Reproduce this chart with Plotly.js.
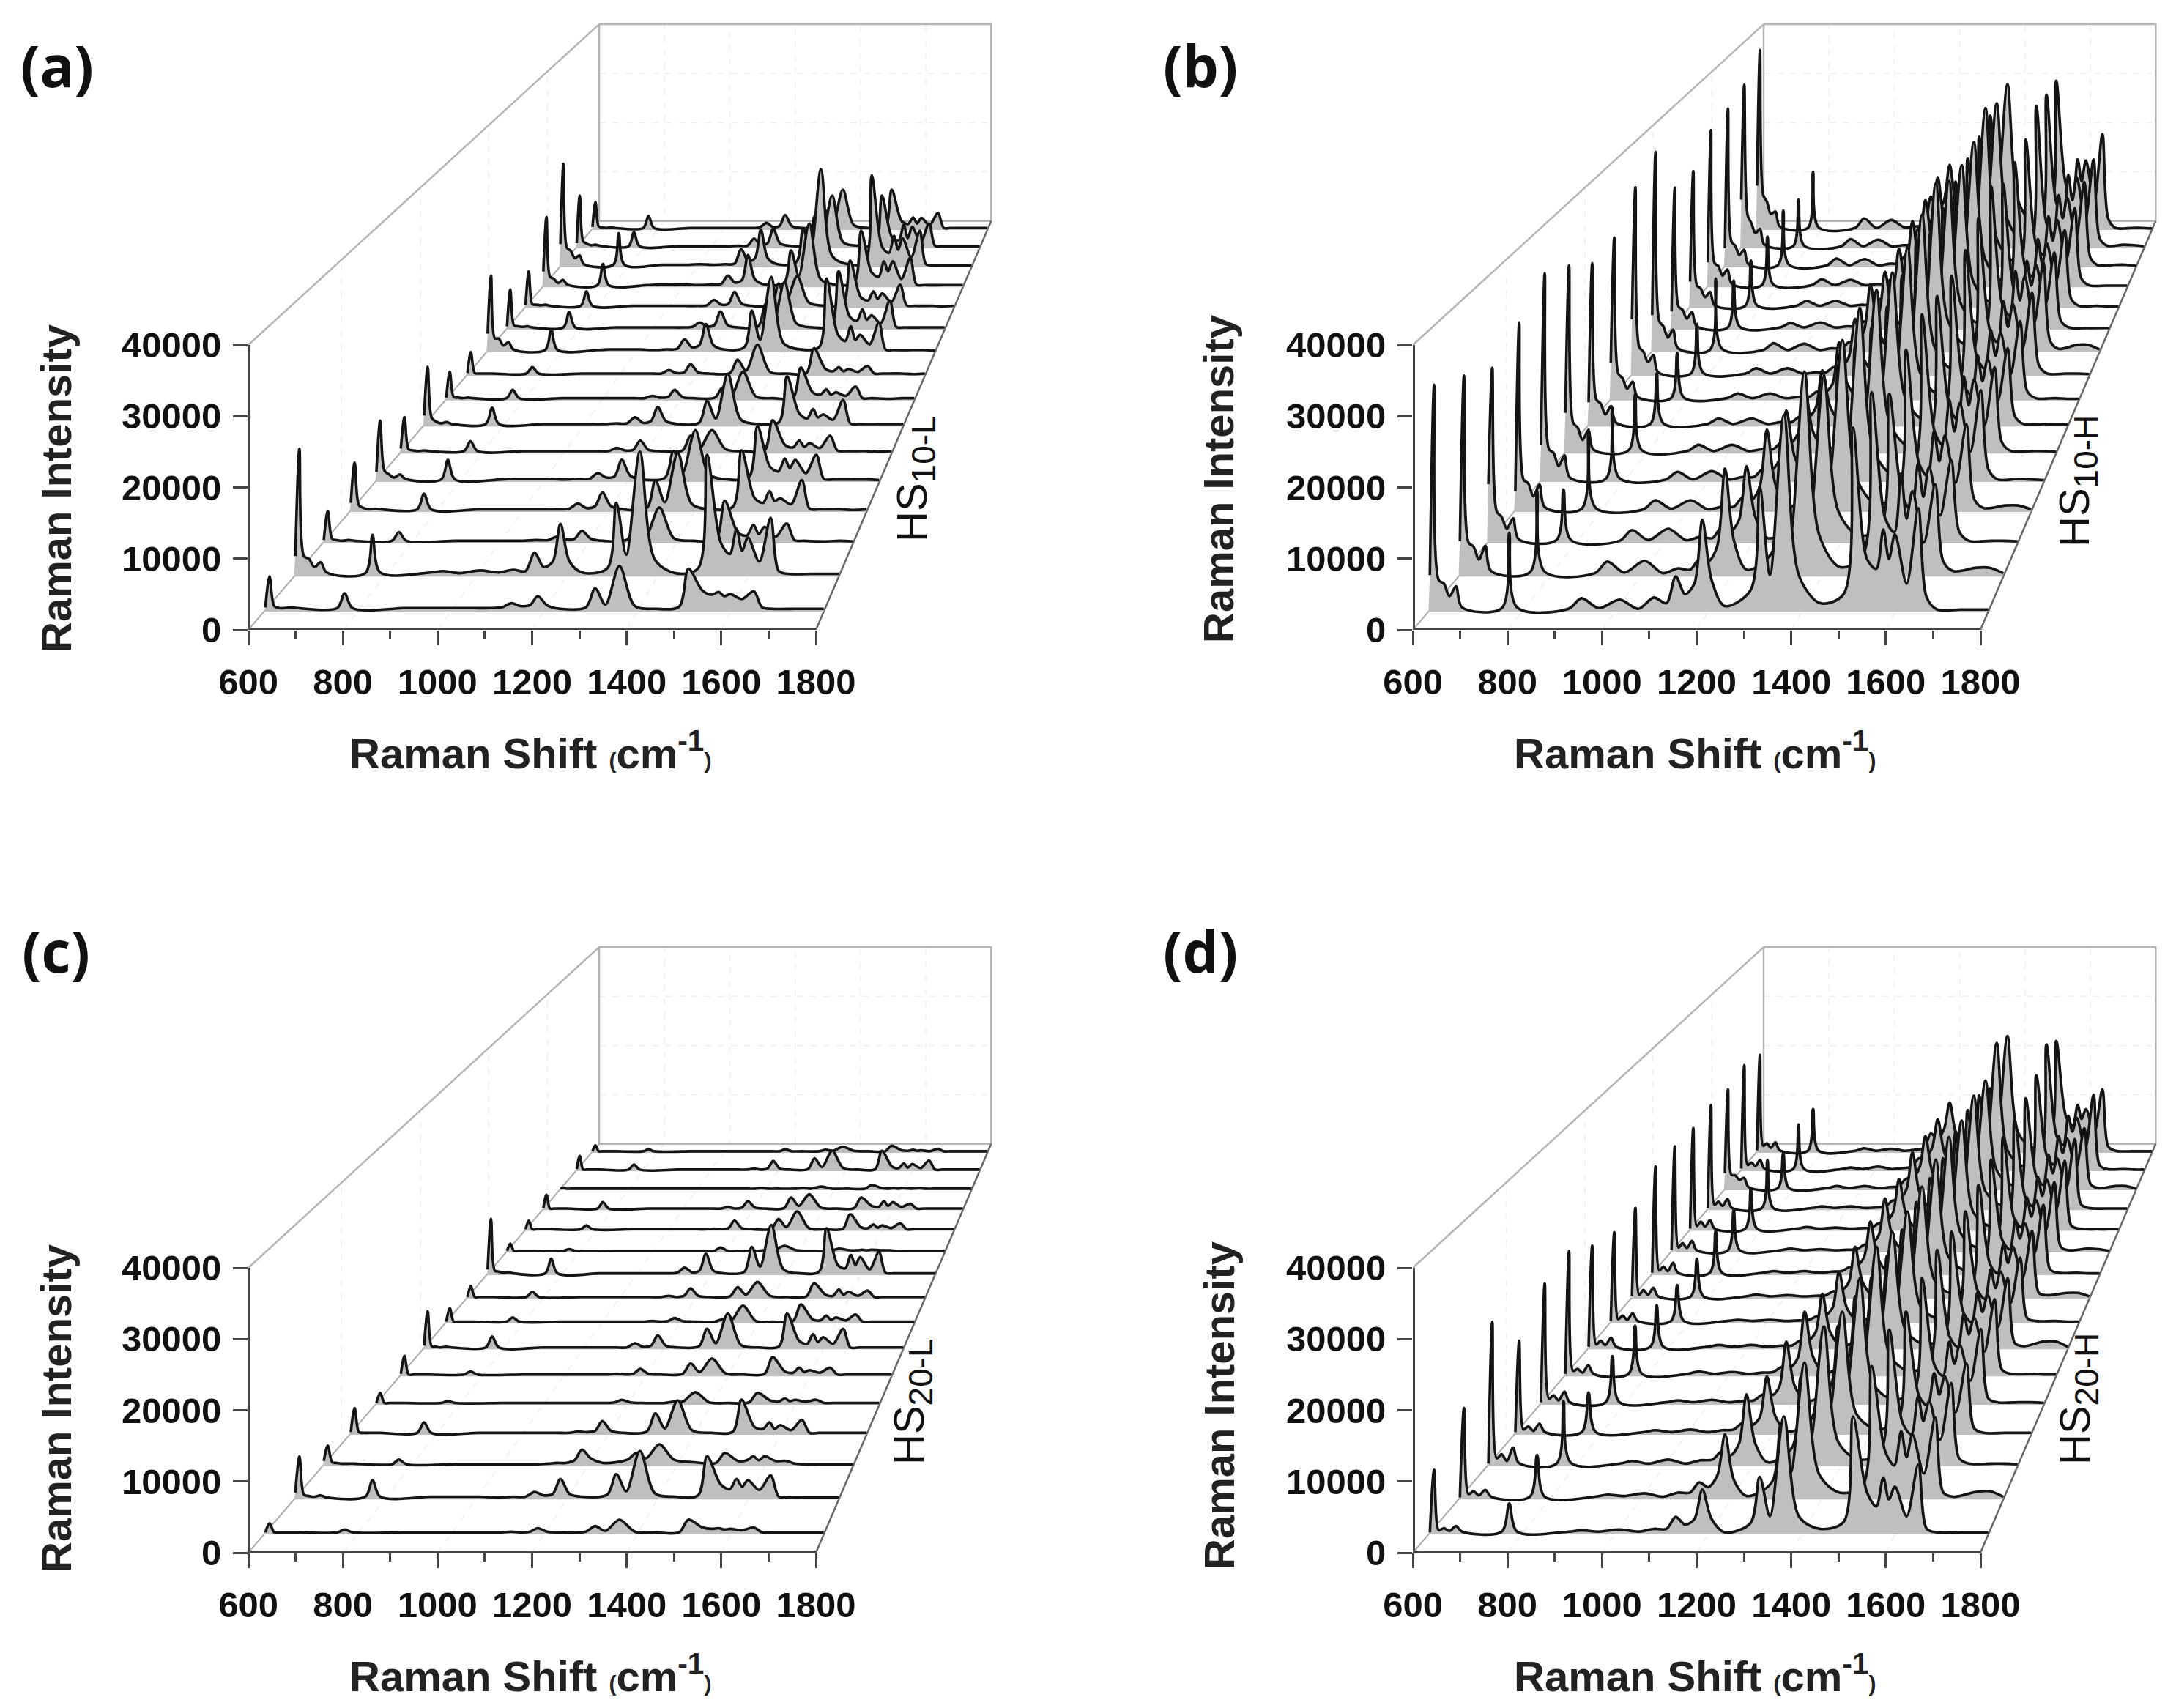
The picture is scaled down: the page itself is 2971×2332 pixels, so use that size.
<!DOCTYPE html>
<html>
<head>
<meta charset="utf-8">
<script src="https://cdn.plot.ly/plotly-3.0.1.min.js"></script>
<style>html,body{margin:0;padding:0;background:#fff}</style>
</head>
<body>
<div id="chart"></div>
<script>
// Raman shift positions shared by all spectra (cm-1)
const ramanShift = [603,612,622,633,645,659,672, 757,773,790,
  900,928,965,1010,1050,1083,1110,1130,1150,1170,1187,1207,1235,
  1290,1310,1332,1362,1395,1440,
  1490,1510,1540,1560,1575,1587,1600,1625,1650,1668,1690,1740,1770,1800];

// intensities in units of 100 counts, first row = front sample
const hs10L = [
  [6,50,8,5,5,6,5, 5,26,5, 5,5,5,5,5,5,6,12,8,9,22,9,4, 6,33,10,65,8,4, 7,61,30,24,28,22,25,18,29,6,4,4,4,4],
  [30,187,30,26,14,21,6, 5,61,6, 6,8,5,9,6,10,8,35,14,22,77,22,6, 12,108,32,183,25,5, 12,178,50,33,70,38,57,22,86,8,4,4,4,4],
  [5,49,7,5,4,5,4, 4,17,4, 4,4,4,4,4,5,5,10,6,7,19,7,4, 6,40,12,54,8,4, 6,64,16,12,28,14,25,10,30,5,4,3,4,3],
  [14,76,10,6,4,5,4, 4,28,4, 4,4,4,4,4,4,5,13,6,9,30,9,4, 6,49,15,91,12,4, 8,95,22,14,32,17,21,12,49,5,4,4,3,4],
  [16,97,18,12,7,12,5, 4,35,4, 4,5,5,5,4,5,5,14,7,9,35,10,4, 7,49,15,82,12,4, 8,88,24,17,37,22,35,14,43,5,4,4,4,3],
  [8,59,7,5,4,5,4, 4,20,4, 4,4,4,4,4,4,4,9,5,6,21,6,4, 5,29,9,38,7,4, 5,54,14,10,21,11,17,9,29,5,4,4,3,4],
  [18,99,14,8,5,7,4, 4,31,4, 4,4,4,4,4,5,5,15,6,9,32,9,4, 6,42,13,87,11,4, 7,83,22,13,29,15,20,11,44,5,4,4,4,4],
  [5,49,6,5,4,5,4, 4,18,4, 4,4,4,4,4,4,4,8,5,6,18,6,4, 5,22,8,49,7,4, 5,56,14,10,19,10,14,8,24,4,4,3,4,4],
  [5,41,5,4,4,4,4, 4,15,4, 4,4,4,4,4,4,4,10,5,6,20,6,4, 5,28,9,54,7,4, 5,48,12,8,15,8,12,7,17,4,4,4,3,4],
  [33,136,25,24,12,18,5, 4,40,4, 4,5,5,5,4,5,6,23,9,13,50,13,5, 9,74,22,134,16,5, 9,131,32,20,46,22,31,14,53,5,4,4,4,3],
  [6,73,8,6,5,6,4, 4,32,4, 4,4,4,4,4,4,5,13,6,8,33,8,4, 6,46,14,86,11,4, 7,106,24,16,37,18,26,12,53,5,4,4,4,4],
  [6,68,7,6,5,6,4, 4,31,4, 4,4,4,4,4,4,5,15,6,8,30,8,4, 6,45,14,59,10,4, 6,88,20,14,31,17,27,11,43,5,4,4,3,4],
  [30,133,20,16,8,14,5, 4,44,4, 4,5,5,5,4,5,6,22,9,14,61,15,5, 8,70,22,121,15,5, 8,107,28,20,49,30,49,16,56,5,4,4,4,4],
  [45,200,38,32,18,23,6, 5,66,5, 5,5,5,6,5,6,7,35,12,18,73,18,6, 10,75,32,190,22,6, 10,178,40,28,61,34,56,20,71,6,4,4,4,4],
  [10,104,14,9,6,7,5, 4,32,4, 4,4,4,4,4,5,5,19,7,10,39,10,5, 7,63,18,104,12,5, 7,104,22,16,46,20,42,12,49,5,4,4,4,4],
  [6,56,7,5,4,5,4, 4,28,4, 4,4,4,4,4,4,5,14,6,8,30,8,4, 6,39,13,81,10,4, 6,81,18,12,25,13,24,10,34,4,4,4,4,4]
];
const hs10H = [
  [52,323,45,40,22,36,6, 5,112,6, 4,19,5,17,4,20,12,50,25,40,131,45,8, 30,178,52,280,50,12, 25,262,75,61,117,75,110,40,147,20,3,3,3,3],
  [52,294,50,44,25,45,8, 6,125,7, 5,22,6,23,5,12,10,25,22,45,158,52,10, 35,200,65,300,60,14, 30,270,85,65,150,85,125,50,135,22,8,13,13,5],
  [89,264,48,40,22,38,6, 5,81,5, 4,20,5,22,5,10,8,24,18,35,116,40,8, 28,170,50,250,48,12, 24,225,70,50,120,70,115,42,125,18,4,4,4,3],
  [32,292,50,44,24,42,7, 5,127,6, 4,18,5,18,4,8,8,22,18,38,127,42,9, 30,180,55,265,52,13, 26,250,75,55,125,78,118,45,135,20,6,10,10,4],
  [58,330,52,46,25,42,7, 5,117,6, 4,16,4,17,4,8,8,20,18,35,113,40,8, 28,185,55,275,50,12, 26,265,80,58,130,80,125,48,145,20,4,5,4,3],
  [66,305,50,42,22,38,6, 5,96,5, 4,14,4,14,4,7,7,18,16,32,109,36,8, 26,175,52,265,48,12, 25,255,75,55,125,78,120,45,140,18,4,4,4,3],
  [40,271,45,38,20,34,6, 4,88,5, 4,13,4,13,4,7,7,16,14,30,93,32,7, 25,165,48,255,46,11, 23,250,70,52,118,75,112,42,130,17,4,4,3,3],
  [64,277,46,38,20,32,6, 4,81,5, 4,12,4,12,4,6,6,15,14,28,99,30,7, 24,160,50,260,46,11, 22,255,72,54,120,76,115,44,135,16,4,4,3,3],
  [98,328,50,42,24,36,6, 4,90,5, 4,13,4,13,4,6,6,15,15,32,99,34,7, 26,175,55,280,50,12, 24,275,78,58,130,85,125,48,145,18,4,4,4,3],
  [66,356,55,46,26,40,7, 4,131,6, 4,16,4,15,4,7,7,18,18,38,120,42,9, 30,200,60,300,55,14, 28,295,85,65,145,92,135,52,160,20,6,13,13,5],
  [33,258,42,36,20,32,6, 4,89,5, 4,12,4,13,4,6,6,15,15,30,105,34,7, 26,175,50,270,46,12, 24,265,72,55,125,80,118,45,140,16,4,3,3,3],
  [49,254,42,36,20,30,5, 4,88,5, 4,13,4,13,4,6,6,16,16,35,110,36,8, 26,185,52,265,48,12, 25,270,75,58,128,82,120,48,145,17,4,4,3,3],
  [47,298,46,40,22,34,6, 4,96,5, 4,15,4,14,4,6,7,18,20,45,125,42,9, 30,200,58,275,52,14, 28,280,80,62,135,88,128,50,150,18,4,3,3,3],
  [37,307,50,42,24,34,6, 4,110,5, 4,17,4,16,4,7,8,25,28,52,130,48,10, 32,210,62,308,55,14, 28,312,85,65,140,95,135,55,165,18,4,5,5,3],
  [96,323,65,50,30,38,7, 4,96,5, 4,18,4,17,4,6,8,40,32,60,140,50,10, 32,220,65,286,55,14, 28,303,88,68,145,95,140,55,175,20,5,7,6,4],
  [89,362,70,57,32,37,7, 4,117,5, 4,23,4,20,5,7,10,67,35,60,131,48,10, 34,230,70,293,58,14, 30,300,90,70,142,98,140,58,193,22,4,4,4,3]
];
const hs20L = [
  [3,16,3,3,3,3,3, 3,7,3, 3,3,3,3,3,3,3,4,3,4,9,4,3, 4,12,5,21,4,3, 3,21,10,8,9,7,8,6,10,3,3,3,3,3],
  [10,63,7,5,4,6,3, 4,28,4, 4,4,4,4,3,4,4,11,6,8,30,8,4, 7,37,12,71,9,4, 6,63,22,15,30,19,28,14,35,4,3,3,3,3],
  [8,31,6,5,4,4,4, 3,10,3, 3,3,3,3,3,3,4,5,5,9,25,12,5, 10,20,12,33,10,6, 5,20,8,9,15,9,15,8,8,4,3,3,3,3],
  [4,41,4,3,3,3,3, 3,19,3, 3,3,3,3,3,3,3,5,4,6,21,6,3, 5,33,10,53,7,3, 5,54,12,9,19,9,15,7,23,3,3,3,3,3],
  [3,19,3,3,3,3,3, 3,6,3, 3,3,3,3,3,3,3,3,3,4,8,4,3, 3,5,5,20,4,3, 4,19,7,5,10,6,8,5,8,3,3,3,3,3],
  [4,33,3,3,3,3,3, 3,8,3, 3,3,3,3,3,3,3,4,3,4,12,4,3, 4,21,7,29,5,3, 4,31,8,6,14,7,10,6,14,3,3,3,3,3],
  [6,63,5,4,3,4,3, 3,21,3, 3,3,3,3,3,3,3,10,4,6,23,6,3, 5,34,10,59,7,3, 5,59,14,9,25,12,20,9,34,3,3,3,3,3],
  [3,26,3,3,3,3,3, 3,10,3, 3,3,3,3,3,3,3,4,3,4,9,4,3, 3,7,5,30,4,3, 4,32,7,5,13,6,10,5,15,3,3,3,3,3],
  [3,22,3,3,3,3,3, 3,12,3, 3,3,3,3,3,3,3,5,3,5,18,5,3, 4,20,7,29,5,3, 4,27,7,5,16,7,12,5,14,3,3,3,3,3],
  [10,100,8,6,4,5,3, 3,29,3, 3,3,3,3,3,3,4,13,5,8,38,8,3, 6,50,15,89,10,3, 6,83,18,12,36,18,32,10,41,4,3,3,3,3],
  [3,16,3,3,3,3,3, 3,6,3, 3,3,3,3,3,3,3,3,3,3,9,3,3, 3,4,4,12,4,3, 3,7,4,4,5,4,5,4,4,3,3,3,3,3],
  [3,19,3,3,3,3,3, 3,10,3, 3,3,3,3,3,3,3,4,3,5,19,5,3, 4,22,7,36,5,3, 4,31,7,5,12,6,10,5,14,3,3,3,3,3],
  [4,29,3,3,3,3,3, 3,15,3, 3,3,3,3,3,3,3,6,3,5,17,5,3, 4,24,8,30,5,3, 4,24,8,6,17,8,15,6,12,3,3,3,3,3],
  [3,5,3,3,3,3,3, 3,3,3, 3,3,3,3,3,3,3,3,3,3,4,3,3, 3,4,3,7,3,3, 3,10,4,3,4,3,4,3,4,3,3,3,3,3],
  [4,30,3,3,3,3,3, 3,13,3, 3,3,3,3,3,3,3,5,3,5,20,5,3, 4,25,8,40,6,3, 4,40,9,6,15,7,14,6,21,3,3,3,3,3],
  [3,15,3,3,3,3,3, 3,7,3, 3,3,3,3,3,3,3,3,3,3,7,3,3, 3,6,4,12,4,3, 3,14,5,4,6,4,5,3,8,3,3,3,3,3]
];
const hs20H = [
  [3,92,6,9,5,12,4, 4,44,4, 4,6,4,7,4,8,8,25,14,22,64,22,3, 16,82,26,168,25,8, 18,168,60,40,81,50,68,26,100,8,3,3,3,3],
  [3,134,8,12,6,14,4, 4,65,4, 4,7,5,9,4,10,10,25,18,35,95,28,5, 25,110,40,200,36,10, 20,195,70,50,100,62,95,38,120,10,4,11,12,4],
  [4,217,12,18,8,28,5, 4,98,5, 4,8,4,10,4,9,10,22,16,34,108,34,6, 28,135,40,210,36,10, 22,205,65,48,105,68,98,40,125,12,4,4,4,3],
  [4,145,8,13,6,17,4, 4,65,4, 4,7,4,8,4,7,8,18,14,26,90,28,5, 24,115,36,190,32,9, 20,190,60,45,95,62,90,35,110,10,3,3,3,3],
  [4,192,10,15,7,21,4, 4,77,4, 4,7,4,8,4,6,7,16,14,28,100,30,6, 26,125,36,200,32,9, 20,200,62,46,100,65,95,38,120,10,4,4,4,3],
  [4,203,9,12,6,18,4, 4,82,4, 4,8,4,7,4,6,7,15,14,30,105,32,6, 26,130,38,210,34,9, 20,205,65,48,102,68,95,40,125,11,4,4,3,3],
  [4,172,8,14,7,19,4, 4,73,4, 4,7,4,7,4,6,6,14,14,28,92,28,6, 24,120,36,195,32,9, 19,195,60,45,95,62,90,36,118,10,5,13,13,4],
  [4,155,7,13,6,17,4, 4,65,4, 4,6,4,6,4,5,6,12,13,26,88,26,5, 22,115,34,190,30,8, 18,190,58,42,92,60,88,34,112,9,4,4,3,3],
  [4,158,7,15,7,19,4, 4,69,4, 4,7,4,6,4,5,6,13,14,28,90,28,6, 24,120,36,195,32,9, 19,198,60,44,95,62,90,36,118,10,6,10,10,4],
  [4,193,8,15,7,22,4, 4,79,4, 4,7,4,7,4,6,7,14,16,32,95,30,6, 26,130,38,205,34,9, 20,205,62,46,98,65,92,38,125,10,4,4,3,3],
  [4,193,9,17,8,21,4, 4,77,4, 4,7,4,6,4,5,6,14,16,32,98,30,6, 26,135,38,210,34,9, 20,210,62,46,100,65,95,38,128,10,4,7,6,3],
  [4,191,9,17,8,20,4, 4,79,4, 4,7,4,6,4,5,6,14,17,34,96,30,6, 26,135,40,205,34,9, 20,205,62,46,100,65,95,38,130,10,4,3,3,3],
  [4,199,10,16,8,21,4, 4,95,4, 4,7,4,7,4,5,7,18,20,40,110,34,7, 28,150,44,217,36,10, 22,212,65,48,105,70,98,40,135,11,4,3,3,3],
  [33,195,30,29,20,24,6, 4,72,4, 4,8,4,8,4,6,8,22,24,44,105,36,7, 28,155,46,212,38,10, 22,222,68,50,105,72,100,42,120,12,4,8,8,3],
  [5,209,12,17,10,22,5, 4,92,4, 4,7,4,9,4,6,9,25,26,46,102,36,7, 30,150,48,253,40,10, 24,250,70,52,109,78,105,45,151,12,4,4,3,3],
  [5,197,14,19,10,21,5, 4,88,4, 4,9,4,8,4,6,10,39,28,48,101,36,7, 30,130,48,235,40,10, 24,225,72,55,96,68,88,40,128,12,4,3,3,3]
];

const ramanTicks = [600,800,1000,1200,1400,1600,1800];
const ramanMinorTicks = [700,900,1100,1300,1500,1700];
const intensityTicks = [0,10000,20000,30000,40000];
const wallDepths = [0.2,0.4,0.6,0.8];
const intensityUnit = 100;

const W = 2971, H = 2332;
const PERSPECTIVE = 0.4478;
const VANISH_X = 2998, VANISH_Z = 185600;

// perspective of the 3D box, depth 0 = front plane, 1 = back wall
const scaleAt = (d) => 1 / (1 + PERSPECTIVE * d);
const projX = (x, d) => VANISH_X + (x - VANISH_X) * scaleAt(d);
const projZ = (z, d) => VANISH_Z + (z - VANISH_Z) * scaleAt(d);

const sampleName = (s) => `HS<sub><span style="font-size:46px">${s}</span></sub>`;

const panels = [
  {id: '', rows: hs10L, left: 339, bottom: 860, label: '(a)', name: sampleName('10-L'), lx: 78, ly: 89, nx: 1250, ny: 654, tx: 724, ty: 1024, yx: 76, yy: 667},
  {id: '2', rows: hs10H, left: 1929, bottom: 860, label: '(b)', name: sampleName('10-H'), lx: 1639, ly: 89, nx: 2837, ny: 657, tx: 2314, ty: 1024, yx: 1664, yy: 654},
  {id: '3', rows: hs20L, left: 339, bottom: 2120, label: '(c)', name: sampleName('20-L'), lx: 76, ly: 1298, nx: 1245, ny: 1914, tx: 724, ty: 2284, yx: 76, yy: 1923},
  {id: '4', rows: hs20H, left: 1929, bottom: 2120, label: '(d)', name: sampleName('20-H'), lx: 1639, ly: 1298, nx: 2837, ny: 1910, tx: 2314, ty: 2284, yx: 1664, yy: 1919}
];
// the axes run past 1800 and 40000 so the box behind the front plane stays inside the subplot
const PLOT_W = 775, PLOT_H = 389, EXT_W = 1.33, EXT_H = 2.15;

const data = [];
const layout = {
  width: W, height: H,
  margin: {l: 0, r: 0, t: 0, b: 0},
  paper_bgcolor: '#fff', plot_bgcolor: 'rgba(0,0,0,0)',
  showlegend: false,
  annotations: []
};

function addLine(p, x, y, color, width, dash) {
  data.push({
    x, y, xaxis: 'x' + p.id, yaxis: 'y' + p.id,
    type: 'scatter', mode: 'lines', hoverinfo: 'skip',
    line: {color, width, dash: dash || 'solid', simplify: false}
  });
}

panels.forEach((p) => {
  const tickFont = {family: 'Liberation Sans', size: 49, color: '#111', weight: 700};
  const titleFont = {family: 'Liberation Sans', size: 58, color: '#222', weight: 700};
  layout['xaxis' + p.id] = {
    domain: [p.left / W, (p.left + PLOT_W * EXT_W) / W],
    anchor: 'y' + p.id,
    range: [600, 600 + 1200 * EXT_W],
    tickmode: 'array', tickvals: ramanTicks,
    ticks: 'outside', ticklen: 20, tickwidth: 3, tickcolor: '#444',
    minor: {tickmode: 'array', tickvals: ramanMinorTicks, ticks: 'outside', ticklen: 11, tickwidth: 3, tickcolor: '#444'},
    showgrid: false, zeroline: false, showline: false,
    tickfont: tickFont, ticklabelstandoff: 8
  };
  layout['yaxis' + p.id] = {
    domain: [1 - p.bottom / H, 1 - (p.bottom - PLOT_H * EXT_H) / H],
    anchor: 'x' + p.id,
    range: [0, 40000 * EXT_H],
    tickmode: 'array', tickvals: intensityTicks, tickformat: 'd',
    ticks: 'outside', ticklen: 20, tickwidth: 3, tickcolor: '#444',
    showgrid: false, zeroline: false, showline: false,
    tickfont: tickFont, ticklabelstandoff: 6
  };

  // faint grid of the box
  const gx = [], gy = [];
  ramanTicks.slice(1, -1).forEach((t) => {
    gx.push(projX(t, 0), projX(t, 1), projX(t, 1), null);
    gy.push(0, projZ(0, 1), projZ(40000, 1), null);
  });
  intensityTicks.slice(1, -1).forEach((t) => {
    gx.push(projX(600, 1), projX(1800, 1), null);
    gy.push(projZ(t, 1), projZ(t, 1), null);
  });
  wallDepths.forEach((d) => {
    gx.push(projX(600, d), projX(600, d), null);
    gy.push(projZ(0, d), projZ(40000, d), null);
  });
  addLine(p, gx, gy, '#efefef', 1.5, 'dash');

  // box edges
  addLine(p, [projX(600, 0), projX(600, 1), projX(600, 1), projX(1800, 1), projX(1800, 1), projX(600, 1)],
    [40000, projZ(40000, 1), projZ(0, 1), projZ(0, 1), projZ(40000, 1), projZ(40000, 1)], '#b4b4b4', 2.5);
  addLine(p, [projX(600, 0), projX(600, 1)], [0, projZ(0, 1)], '#aaaaaa', 2);
  addLine(p, [projX(1800, 0), projX(1800, 1)], [0, projZ(0, 1)], '#666666', 2.5);

  // spectra from the back to the front, each one covers what is behind it
  for (let i = p.rows.length - 1; i >= 0; i--) {
    const d = (i + 0.5) / p.rows.length;
    data.push({
      x: [projX(600, d), projX(1800, d)],
      y: [projZ(0, d), projZ(0, d)],
      xaxis: 'x' + p.id, yaxis: 'y' + p.id,
      type: 'scatter', mode: 'lines', hoverinfo: 'skip',
      line: {width: 0, color: 'rgba(0,0,0,0)'}
    });
    data.push({
      x: ramanShift.map((r) => projX(r, d)),
      y: p.rows[i].map((v) => projZ(v * intensityUnit, d)),
      xaxis: 'x' + p.id, yaxis: 'y' + p.id,
      type: 'scatter', mode: 'lines', hoverinfo: 'skip',
      fill: 'tonexty', fillcolor: '#bfbfbf',
      line: {color: '#141414', width: 3.6, shape: 'spline', smoothing: 0.9, simplify: false}
    });
  }

  // front axis lines sit on the subplot edge, half of the width is clipped
  addLine(p, [600, 1800], [0, 0], '#444', 6);
  addLine(p, [600, 600], [0, 40000], '#444', 6);

  layout.annotations.push({
    xref: 'paper', yref: 'paper', x: p.lx / W, y: 1 - p.ly / H, xanchor: 'center', yanchor: 'middle',
    showarrow: false, text: p.label,
    font: {family: 'Open Sans', size: 78, color: '#111', weight: 700}
  });
  layout.annotations.push({
    xref: 'paper', yref: 'paper', x: p.nx / W, y: 1 - p.ny / H, xanchor: 'center', yanchor: 'middle',
    showarrow: false, textangle: -90, text: p.name,
    font: {family: 'Liberation Sans', size: 58, color: '#111'}
  });
  layout.annotations.push({
    xref: 'paper', yref: 'paper', x: p.tx / W, y: 1 - p.ty / H, xanchor: 'center', yanchor: 'middle',
    showarrow: false, text: 'Raman Shift <span style="font-size:30px">(</span>cm<sup>-1</sup><span style="font-size:30px">)</span>',
    font: titleFont
  });
  layout.annotations.push({
    xref: 'paper', yref: 'paper', x: p.yx / W, y: 1 - p.yy / H, xanchor: 'center', yanchor: 'middle',
    showarrow: false, textangle: -90, text: 'Raman Intensity',
    font: titleFont
  });
});

Plotly.newPlot('chart', data, layout, {staticPlot: true, displayModeBar: false});
</script>
</body>
</html>
